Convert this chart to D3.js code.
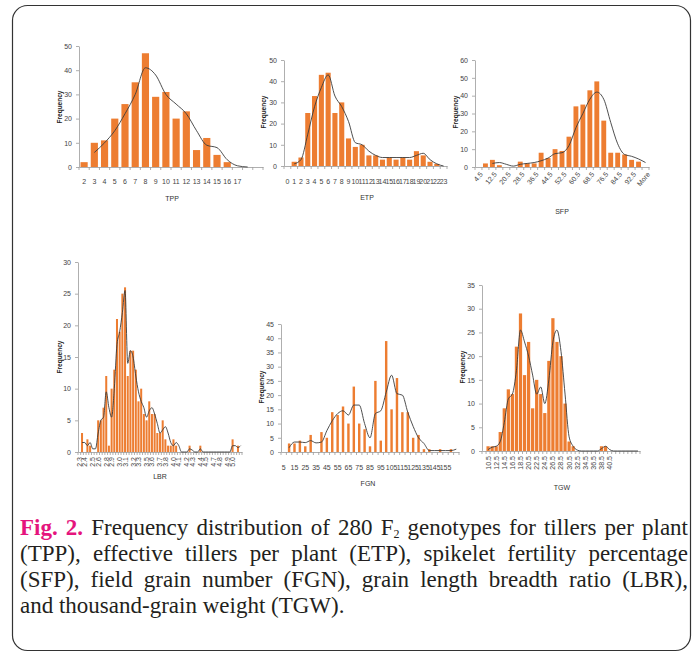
<!DOCTYPE html>
<html>
<head>
<meta charset="utf-8">
<script src="https://cdn.jsdelivr.net/npm/d3@7"></script>
<style>
  body { margin: 0; background: #fff; }
  #wrap { position: relative; width: 697px; height: 653px; }
  svg { position: absolute; left: 0; top: 0; }
  .caption { position: absolute; left: 20px; top: 515px; width: 668px;
    font-family: "Liberation Serif", "Times New Roman", serif; font-size: 23px;
    line-height: 26px; color: #231f20; }
  .caption div { white-space: nowrap; text-align: justify; text-align-last: justify; }
  .caption div.last { text-align-last: left; }
  .caption .fig { color: #e5147d; font-weight: bold; }
  .caption sub { font-size: 12px; vertical-align: -3px; line-height: 0; }
  .tick text { font-family: "Liberation Sans Narrow", "Liberation Sans", Arial, sans-serif; font-size: 7px; fill: #444; }
  .axis path, .axis line { stroke: #9a9a9a; stroke-width: 0.8; }
</style>
</head>
<body>
<div id="wrap"></div>
<script>
// TPP
var tppCats  = ["2","3","4","5","6","7","8","9","10","11","12","13","14","15","16","17","",""];
var tppFreq  = [2,10,11,20,26,35,47,29,31,20,23,7,12,5,2,0,0,0];
var tppTrend = [null,6,10,15,22,30,41,38,30,26,22,15,9,8,3,0.5,0,null];

// ETP
var etpCats  = ["0","1","2","3","4","5","6","7","8","9","10","11","12","13","14","15","16","17","18","19","20","21","22","23"];
var etpFreq  = [0,2,4,25,33,43,44,25,30,13,9,10,5,5,3,4,3,4,3,7,5,2,1,0];
var etpTrend = [null,1,3,15,28,37,43,33,28,21,11,10,7,5,4,4,4,4,4,5,6,3,1,0];

// SFP
var sfpCats  = ["4.5","8.5","12.5","16.5","20.5","24.5","28.5","32.5","36.5","40.5","44.5","48.5","52.5",
                "56.5","60.5","64.5","68.5","72.5","76.5","80.5","84.5","88.5","92.5","96.5","More"];
var sfpFreq  = [0,2,4,1,0,0,3,2,2,8,5,10,9,17,34,35,43,48,26,8,8,7,4,3,0];
var sfpTrend = [null,null,2,2.5,1.5,0.5,1.5,2,2.5,3.5,5,7.5,8,12,22,30,38,42,38,25,13,7,6,4.5,2.5];

// LBR (blank = category not labelled on the axis)
var lbrCats  = ["2.3","","2.4","","","2.5","","2.6","","","2.8","","2.9","","","3.0","","3.1","","","3.2","",
                "3.3","","","3.5","","3.6","","","3.7","","3.8","","","4.0","","4.1","","","4.2","","4.3","","",
                "4.4","","4.5","","","4.7","","4.8","","","4.9","","5.0","","",""];
var lbrFreq  = [0,3,0,2,1,0,0,5,5,7,12,1,10,13,21,19,25,26,12,16,16,13,8,10,6,5,8,6,6,3,3,5,2,1,1,2,1,0,0,0,
                0,1,0,0,0,1,0,0,0,0,0,0,0,0,0,0,0,2,0,1,0];
var lbrTrend = [null,1.5,1.5,1,1.5,0.5,0.5,3,5,5.5,9.5,7,5.5,10,17,19,22,25.5,14,16,15,12,9.5,8,7,5.5,6.5,7,6,4.5,
                3,3.5,4,3,1.5,1,1.5,1,0,0,0,0.5,0.3,0,0,0.5,0,0,0,0,0,0,0,0,0,0,0,1,1,0.7,1];

// FGN
var fgnCats  = ["5","10","15","20","25","30","35","40","45","50","55","60","65","70","75","80","85","90","95",
                "100","105","110","115","120","125","130","135","140","145","150","155","160","165"];
var fgnFreq  = [0,3,3,4,2,6,0,7,5,14,13,16,10,23,10,8,2,25,4,39,15,26,14,14,5,6,1,1,0,1,0,1,0];
var fgnTrend = [null,1.5,3.5,3.5,3.3,4,3.2,3.5,7.5,11,13.5,14.5,13,16.5,16.5,10,5,13.5,14.5,21,27,20.5,20,14,9,5,3,
                0.5,0.5,0.5,0.5,0.5,1];

// TGW
var tgwCats  = ["9.5","10.5","11.5","12.5","13.5","14.5","15.5","16.5","17.5","18.5","19.5","20.5","21.5","22.5",
                "23.5","24.5","25.5","26.5","27.5","28.5","29.5","30.5","31.5","32.5","33.5","34.5","35.5","36.5",
                "37.5","38.5","39.5","40.5","41.5","42.5","43.5","44.5","45.5","46.5","47.5"];
var tgwFreq  = [0,1,1,1,4,9,13,12,22,29,16,23,9,15,12,8,19,28,23,20,10,2,1,0,0,0,0,0,0,1,1,0,0,0,0,0,0,0,0];
var tgwTrend = [null,0.3,0.8,1,2,6,11,12,17,25.5,23,20,16,12,13.5,10,15,23,25.5,21,12,3,1,0.2,0,0,0,0,0,0.5,1,0.3,
                0,0,0,0,0,0,0];

var W = 697, H = 653;
var svg = d3.select("#wrap").append("svg").attr("width", W).attr("height", H);

// rounded frame
svg.append("rect")
  .attr("x", 12.5).attr("y", 5.5).attr("width", 678).attr("height", 645).attr("rx", 15)
  .attr("fill", "none").attr("stroke", "#333").attr("stroke-width", 1.2);

function panel(o) {
  var g = svg.append("g");
  var idx = d3.range(o.cats.length);

  var x = d3.scaleBand().domain(idx).range([o.x0, o.x1]).paddingInner(o.pad).paddingOuter(o.pad / 2);
  var y = d3.scaleLinear().domain([0, o.yMax]).range([o.y0, o.y1]);
  var step = (o.x1 - o.x0) / o.cats.length;

  // y axis
  g.append("g").attr("class", "axis")
    .attr("transform", "translate(" + o.x0 + ",0)")
    .call(d3.axisLeft(y).tickValues(d3.range(0, o.yMax + 0.01, o.yStep)).tickSize(3).tickPadding(4).tickSizeOuter(0));

  // x axis: labels at band centres, ticks at band edges
  var xa = g.append("g").attr("class", "axis")
    .attr("transform", "translate(0," + o.y0 + ")")
    .call(d3.axisBottom(x).tickSize(0).tickSizeOuter(0).tickPadding(0)
      .tickFormat(function(i) { return o.show(i) ? o.cats[i] : ""; }));
  xa.selectAll(".tick text").attr("transform", null).attr("y", 0).attr("dy", null);
  if (o.rot === 0) {
    xa.selectAll(".tick text").attr("y", o.labelDy).attr("dy", "0.35em");
  } else if (o.rot === -45) {
    xa.selectAll(".tick text")
      .style("text-anchor", "end")
      .attr("transform", "translate(3," + o.labelDy + ") rotate(-50)")
      .attr("dy", "0.35em");
  } else {
    xa.selectAll(".tick text")
      .style("text-anchor", "end")
      .attr("transform", "translate(0," + o.labelDy + ") rotate(-90)")
      .attr("dy", "0.35em");
  }
  xa.selectAll(".edge").data(d3.range(o.cats.length + 1)).enter().append("line")
    .attr("class", "edge")
    .attr("x1", function(i) { return o.x0 + i * step; })
    .attr("x2", function(i) { return o.x0 + i * step; })
    .attr("y1", 0).attr("y2", 3);

  // bars
  g.selectAll(".bar").data(o.freq).enter().append("rect")
    .attr("x", function(d, i) { return x(i); })
    .attr("y", function(d) { return y(d); })
    .attr("width", x.bandwidth())
    .attr("height", function(d) { return o.y0 - y(d); })
    .attr("fill", "#ed7d31");

  // trend line
  var line = d3.line()
    .defined(function(d) { return d != null; })
    .x(function(d, i) { return x(i) + x.bandwidth() / 2; })
    .y(function(d) { return y(d); })
    .curve(d3.curveMonotoneX);
  g.append("path").datum(o.trend)
    .attr("d", line)
    .attr("fill", "none").attr("stroke", "#3b3b3b").attr("stroke-width", 0.9);

  // titles
  g.append("text")
    .attr("transform", "translate(" + o.yl[0] + "," + o.yl[1] + ") rotate(-90)")
    .attr("text-anchor", "middle").attr("dy", "0.35em")
    .style("font-family", "Liberation Sans, Arial, sans-serif").style("font-size", "6.5px")
    .style("font-weight", "bold").style("fill", "#222")
    .text("Frequency");
  g.append("text")
    .attr("x", o.xt[0]).attr("y", o.xt[1]).attr("dy", "0.35em")
    .attr("text-anchor", "middle")
    .style("font-family", "Liberation Sans Narrow, Liberation Sans, Arial, sans-serif").style("font-size", "7px")
    .style("fill", "#333")
    .text(o.title);
}

var all = function() { return true; };
var even = function(i) { return i % 2 === 0; };

panel({ cats: tppCats, freq: tppFreq, trend: tppTrend, title: "TPP",
  x0: 79, x1: 263, y0: 167, y1: 46, yMax: 50, yStep: 10, pad: 0.3,
  show: all, rot: 0, labelDy: 15, yl: [60, 107], xt: [172, 199] });

panel({ cats: etpCats, freq: etpFreq, trend: etpTrend, title: "ETP",
  x0: 284, x1: 447, y0: 166, y1: 60, yMax: 50, yStep: 10, pad: 0.25,
  show: all, rot: 0, labelDy: 16, yl: [264, 112], xt: [367, 198] });

panel({ cats: sfpCats, freq: sfpFreq, trend: sfpTrend, title: "SFP",
  x0: 475, x1: 649, y0: 167, y1: 60, yMax: 60, yStep: 10, pad: 0.3,
  show: even, rot: -45, labelDy: 6, yl: [456, 112], xt: [562, 212] });

panel({ cats: lbrCats, freq: lbrFreq, trend: lbrTrend, title: "LBR",
  x0: 78, x1: 242, y0: 452, y1: 262, yMax: 30, yStep: 5, pad: 0.25,
  show: all, rot: -90, labelDy: 5, yl: [60, 357], xt: [160, 477] });

panel({ cats: fgnCats, freq: fgnFreq, trend: fgnTrend, title: "FGN",
  x0: 281, x1: 459, y0: 452, y1: 324, yMax: 45, yStep: 5, pad: 0.55,
  show: function(i) { return i % 2 === 0 && i < 32; }, rot: 0, labelDy: 16, yl: [262, 387], xt: [368, 484] });

panel({ cats: tgwCats, freq: tgwFreq, trend: tgwTrend, title: "TGW",
  x0: 482, x1: 640, y0: 451, y1: 285, yMax: 35, yStep: 5, pad: 0.2,
  show: function(i) { return i % 2 === 1 && i < 32; }, rot: -90, labelDy: 5, yl: [463, 367], xt: [562, 488] });

// caption
var cap = d3.select("#wrap").append("div").attr("class", "caption");
cap.append("div").html('<span class="fig">Fig. 2.</span> Frequency distribution of 280 F<sub>2</sub> genotypes for tillers per plant');
cap.append("div").text("(TPP), effective tillers per plant (ETP), spikelet fertility percentage");
cap.append("div").text("(SFP), field grain number (FGN), grain length breadth ratio (LBR),");
cap.append("div").attr("class", "last").text("and thousand-grain weight (TGW).");
</script>
</body>
</html>
